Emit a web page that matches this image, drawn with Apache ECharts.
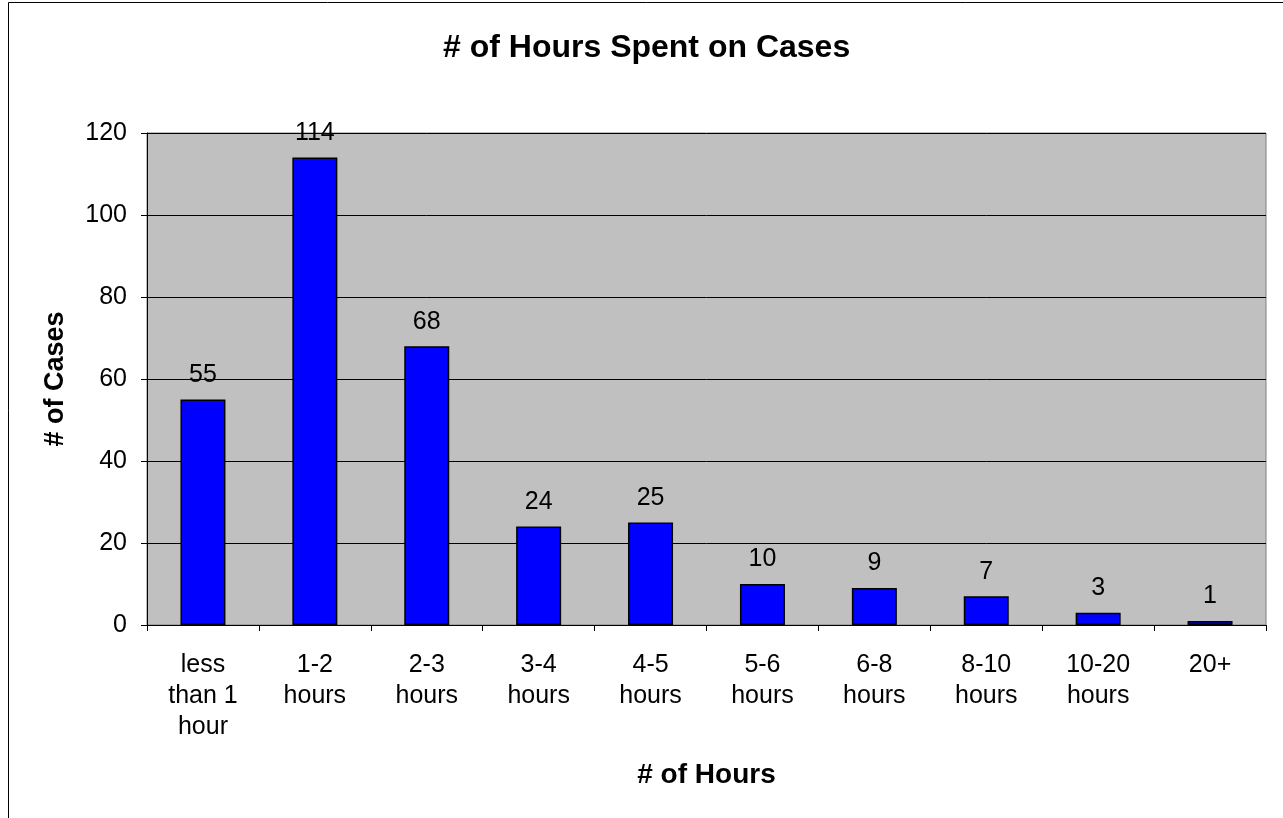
<!DOCTYPE html>
<html>
<head>
<meta charset="utf-8">
<script src="https://cdn.jsdelivr.net/npm/echarts@6/dist/echarts.min.js"></script>
<style>
  html, body { margin: 0; padding: 0; background: #fff; }
  #chart { width: 1283px; height: 818px; }
</style>
</head>
<body>
<div id="chart"></div>
<script>
// categories and values
var categories = ['less\nthan 1\nhour', '1-2\nhours', '2-3\nhours', '3-4\nhours', '4-5\nhours',
  '5-6\nhours', '6-8\nhours', '8-10\nhours', '10-20\nhours', '20+']
var cases = [55, 114, 68, 24, 25, 10, 9, 7, 3, 1]

var font = 'Liberation Sans, Arial, sans-serif'

var chart = echarts.init(document.getElementById('chart'))
chart.setOption({
  animation: false,
  title: {
    text: '# of Hours Spent on Cases',
    left: 438,
    top: 27,
    textStyle: { fontFamily: font, fontSize: 32, fontWeight: 'bold', color: '#000' }
  },
  graphic: [{
    type: 'rect',
    shape: { x: 8.5, y: 2.5, width: 1290, height: 830 },
    style: { fill: 'none', stroke: '#000', lineWidth: 1 },
    z: -1
  }],
  grid: {
    left: 147,
    right: 17,
    top: 133,
    bottom: 193,
    show: true,
    backgroundColor: '#c0c0c0',
    borderColor: '#808080',
    borderWidth: 1
  },
  xAxis: {
    type: 'category',
    data: categories,
    name: '# of Hours',
    nameLocation: 'middle',
    nameGap: 136,
    nameTextStyle: { fontFamily: font, fontSize: 28, fontWeight: 'bold', color: '#000' },
    axisLine: { lineStyle: { color: '#000', width: 1 } },
    axisTick: { show: true, length: 6, lineStyle: { color: '#000' } },
    axisLabel: { fontFamily: font, fontSize: 25, color: '#000', margin: 25, lineHeight: 31, interval: 0 }
  },
  yAxis: {
    type: 'value',
    min: 0,
    max: 120,
    interval: 20,
    name: '# of Cases',
    nameLocation: 'middle',
    nameGap: 78,
    nameTextStyle: { fontFamily: font, fontSize: 27, fontWeight: 'bold', color: '#000' },
    axisLine: { show: true, lineStyle: { color: '#000', width: 1 } },
    axisTick: { show: true, length: 6, lineStyle: { color: '#000' } },
    axisLabel: { fontFamily: font, fontSize: 25, color: '#000', margin: 20 },
    splitLine: { show: true, lineStyle: { color: '#000', width: 1 } }
  },
  series: [{
    type: 'bar',
    data: cases,
    barWidth: 45,
    itemStyle: { color: '#0000ff', borderColor: '#000', borderWidth: 1.5 },
    label: {
      show: true,
      position: 'top',
      distance: 12,
      fontFamily: font,
      fontSize: 25,
      color: '#000'
    }
  }]
})
</script>
</body>
</html>
